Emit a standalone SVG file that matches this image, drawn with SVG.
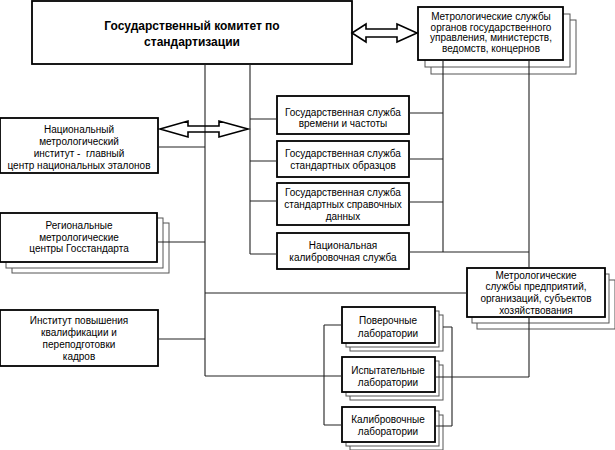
<svg xmlns="http://www.w3.org/2000/svg" width="615" height="450" viewBox="0 0 615 450">
<style>
.box{fill:#fff;stroke:#000;stroke-width:1.8}
.sh{fill:#fff;stroke:#555;stroke-width:1}
.t{font-family:"Liberation Sans",Arial,sans-serif;font-size:10px;fill:#000;text-anchor:middle}
.tb{font-family:"Liberation Sans",Arial,sans-serif;font-size:12px;font-weight:bold;fill:#000;text-anchor:middle}
.c{fill:none;stroke:#222;stroke-width:1.1}
.ar{fill:none;stroke:#000;stroke-width:1.6;stroke-linejoin:miter}
</style>
<rect width="615" height="450" fill="#fff"/>

<g id="committee">
<rect class="box" x="32" y="1" width="320" height="63"/>
<text class="tb" x="192" y="29.5">Государственный комитет по</text>
<text class="tb" x="192" y="45.5">стандартизации</text>
</g>

<g id="ministries">
<rect class="sh" x="431" y="20" width="145" height="54"/>
<rect class="sh" x="425" y="14" width="145" height="53"/>
<rect class="box" x="418" y="7" width="145" height="53"/>
<text class="t" x="491" y="19.5">Метрологические службы</text>
<text class="t" x="491" y="30.5">органов государственного</text>
<text class="t" x="491" y="41">управления, министерств,</text>
<text class="t" x="491" y="51.5">ведомств, концернов</text>
</g>

<g id="national-institute">
<rect class="box" x="0" y="118" width="158" height="55"/>
<text class="t" x="79" y="132.5">Национальный</text>
<text class="t" x="79" y="144.5">метрологический</text>
<text class="t" x="79" y="156.5" xml:space="preserve">институт -  главный</text>
<text class="t" x="79" y="168.5">центр национальных эталонов</text>
</g>

<g id="regional">
<rect class="sh" x="12" y="223" width="157" height="50"/>
<rect class="sh" x="6" y="218" width="157" height="50"/>
<rect class="box" x="0" y="213" width="157" height="49"/>
<text class="t" x="79" y="228.5">Региональные</text>
<text class="t" x="79" y="240.5">метрологические</text>
<text class="t" x="79" y="251.5">центры Госстандарта</text>
</g>

<g id="training-institute">
<rect class="box" x="0" y="310" width="158" height="56"/>
<text class="t" x="79" y="323.5">Институт повышения</text>
<text class="t" x="79" y="335.5">квалификации и</text>
<text class="t" x="79" y="347.5">переподготовки</text>
<text class="t" x="79" y="359.5">кадров</text>
</g>

<g id="time-service">
<rect class="box" x="277" y="96" width="132" height="38"/>
<text class="t" x="343" y="115.5">Государственная служба</text>
<text class="t" x="343" y="127">времени и частоты</text>
</g>

<g id="reference-materials">
<rect class="box" x="277" y="141" width="132" height="36"/>
<text class="t" x="343" y="156.5">Государственная служба</text>
<text class="t" x="343" y="168.5">стандартных образцов</text>
</g>

<g id="reference-data">
<rect class="box" x="277" y="183" width="132" height="42"/>
<text class="t" x="343" y="196">Государственная служба</text>
<text class="t" x="343" y="208">стандартных справочных</text>
<text class="t" x="343" y="220">данных</text>
</g>

<g id="calibration-service">
<rect class="box" x="277" y="233" width="132" height="36"/>
<text class="t" x="343" y="248.5">Национальная</text>
<text class="t" x="343" y="260.5">калибровочная служба</text>
</g>

<g id="enterprises">
<rect class="sh" x="477" y="280" width="138" height="49"/>
<rect class="sh" x="472" y="274" width="137" height="49"/>
<rect class="box" x="467" y="268" width="138" height="49"/>
<text class="t" x="536" y="279">Метрологические</text>
<text class="t" x="536" y="290">службы предприятий,</text>
<text class="t" x="536" y="302">организаций, субъектов</text>
<text class="t" x="536" y="313.5">хозяйствования</text>
</g>

<g id="verification-labs">
<rect class="sh" x="350" y="315" width="93" height="36"/>
<rect class="sh" x="346" y="311" width="93" height="36"/>
<rect class="box" x="342" y="307" width="93" height="36"/>
<text class="t" x="388" y="323.5">Поверочные</text>
<text class="t" x="388" y="336.5">лаборатории</text>
</g>

<g id="testing-labs">
<rect class="sh" x="350" y="365" width="93" height="35"/>
<rect class="sh" x="346" y="361" width="93" height="35"/>
<rect class="box" x="342" y="357" width="93" height="35"/>
<text class="t" x="388" y="374">Испытательные</text>
<text class="t" x="388" y="386">лаборатории</text>
</g>

<g id="calibration-labs">
<rect class="sh" x="350" y="415" width="93" height="35"/>
<rect class="sh" x="346" y="411" width="93" height="35"/>
<rect class="box" x="342" y="407" width="93" height="35"/>
<text class="t" x="388" y="422.5">Калибровочные</text>
<text class="t" x="388" y="434.5">лаборатории</text>
</g>

<g id="connectors">
<path class="c" d="M205,64V376 M250,64V254 M158,147H205 M157,242H205 M158,339H205 M205,293H467 M205,376H342 M324,325V425 M324,325H342 M324,425H342 M250,119H277 M250,161H277 M250,201H277 M250,254H277 M409,113H443 M409,159H443 M409,202H443 M443,60V252 M409,252H529 M529,60V268 M529,317V377 M435,377H529 M452,327V426 M443,327H452 M435,426H452"/>
<polygon class="ar" points="352,33 366,24 366,29 397,29 397,24 417,33 397,42 397,37 366,37 366,42"/>
<polygon class="ar" points="160,129 188,121 188,126 219,126 219,121 248,129 219,137 219,132 188,132 188,137"/>
</g>
</svg>
